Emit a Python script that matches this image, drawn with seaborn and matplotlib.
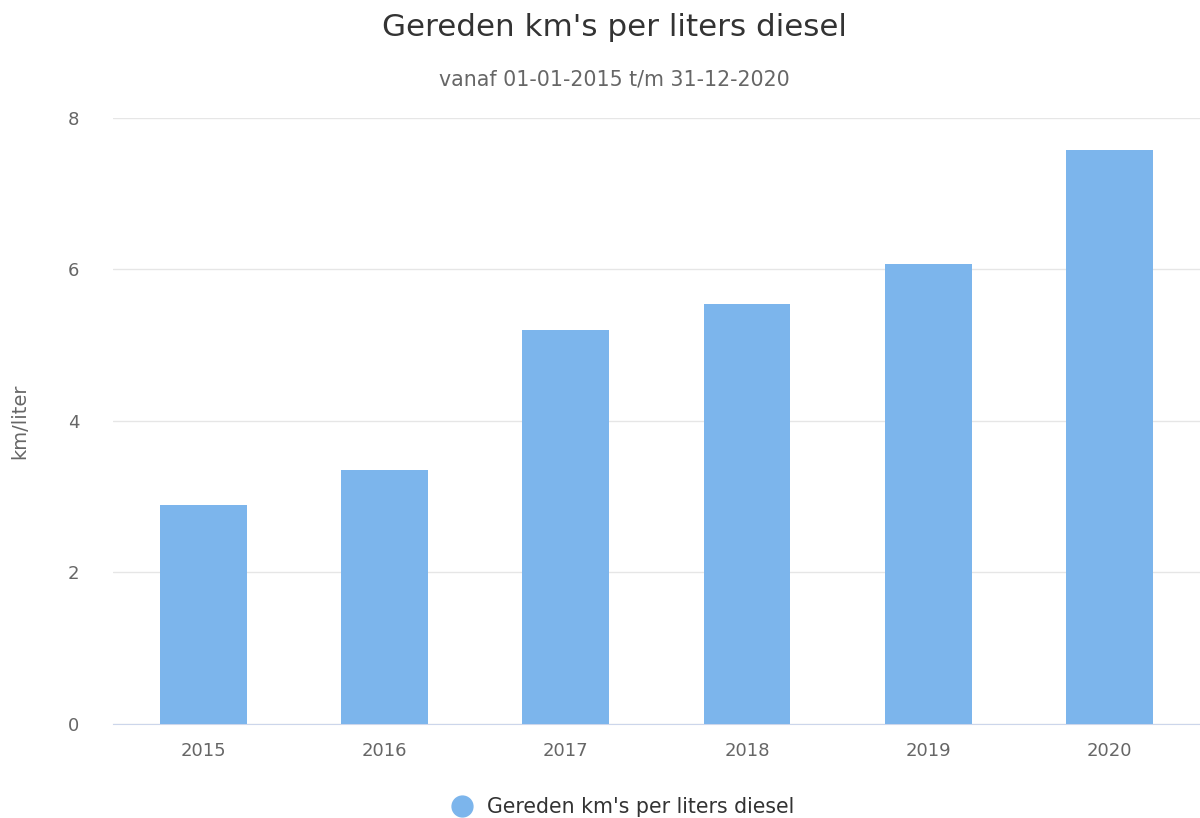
import matplotlib
matplotlib.use('Agg')
import matplotlib.pyplot as plt
import seaborn as sns
import pandas as pd
from matplotlib.lines import Line2D

# data
years = ['2015', '2016', '2017', '2018', '2019', '2020']
km_per_liter = [2.89, 3.35, 5.20, 5.54, 6.07, 7.58]
series_name = "Gereden km's per liters diesel"

data = pd.DataFrame({'jaar': years, 'km/liter': km_per_liter})

sns.set_style('white')
plt.rcParams['font.family'] = ['DejaVu Sans']

fig = plt.figure(figsize=(12, 8.18), dpi=100)
ax = fig.add_axes([0.094, 0.115, 0.906, 0.741])

sns.barplot(x='jaar', y='km/liter', data=data, color='#7cb5ec', saturation=1,
            width=0.48, linewidth=0, ax=ax, zorder=3)

ax.set_ylim(0, 8)
ax.set_yticks([0, 2, 4, 6, 8])
ax.set_xlim(-0.5, 5.5)
ax.grid(axis='y', color='#e6e6e6', linewidth=1, zorder=0)
for s in ['top', 'right', 'left']:
    ax.spines[s].set_visible(False)
ax.spines['bottom'].set_color('#ccd6eb')
ax.tick_params(axis='both', length=0, labelsize=13, labelcolor='#666666')
ax.tick_params(axis='x', pad=13)
ax.tick_params(axis='y', pad=24)
ax.set_xlabel('')
ax.set_ylabel('km/liter', fontsize=14, color='#666666', labelpad=28)

fig.text(0.512, 0.966, series_name, ha='center', va='center', fontsize=22.3, color='#333333')
fig.text(0.512, 0.903, 'vanaf 01-01-2015 t/m 31-12-2020', ha='center', va='center',
         fontsize=14.8, color='#666666')

handle = Line2D([], [], marker='o', linestyle='', markersize=15, color='#7cb5ec')
fig.legend([handle], [series_name], loc='center', bbox_to_anchor=(0.515, 0.013),
           frameon=False, fontsize=14.8, labelcolor='#333333', handletextpad=0.2)

fig.savefig('out.png', dpi=100)
